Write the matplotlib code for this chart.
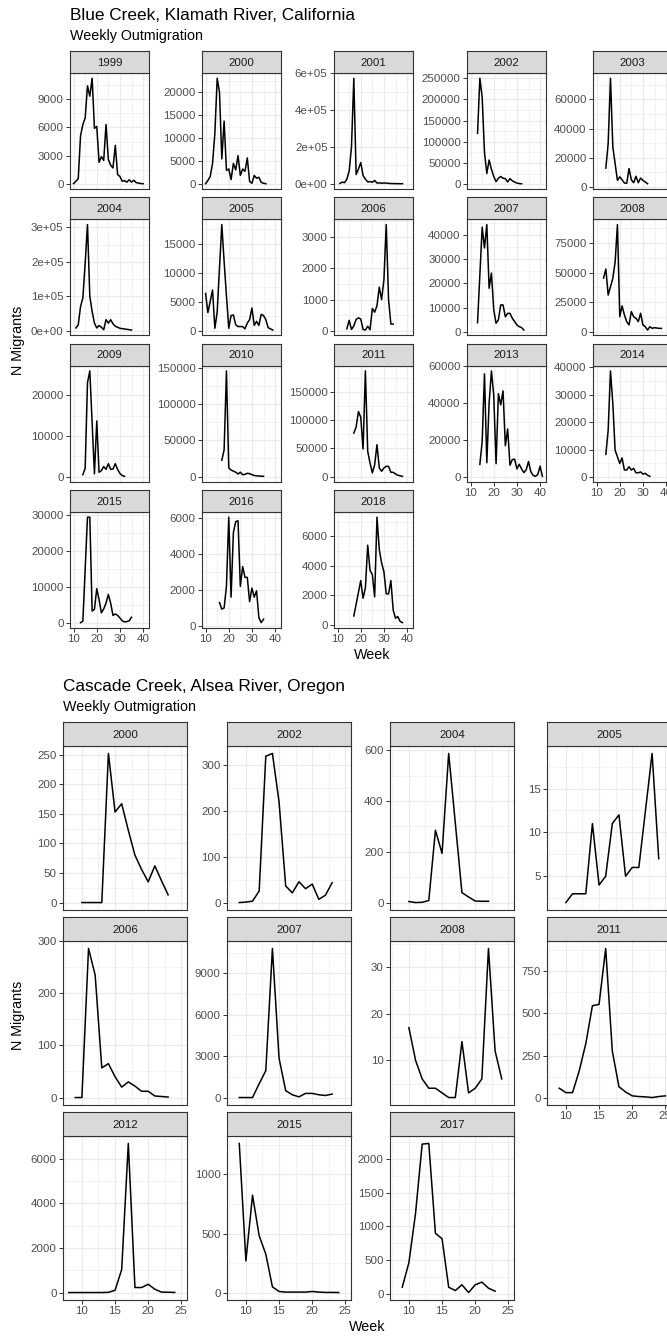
import matplotlib
matplotlib.use("Agg")
import matplotlib.pyplot as plt
import numpy as np

plt.rcParams['font.family'] = ['Liberation Sans', 'DejaVu Sans']

# ---------------- Blue Creek, Klamath River, California ----------------
blue_years = [1999, 2000, 2001, 2002, 2003, 2004, 2005, 2006, 2007,
              2008, 2009, 2010, 2011, 2013, 2014, 2015, 2016, 2018]
blue_weeks = {
    1999: list(range(10, 41)),
    2000: list(range(10, 37)),
    2001: list(range(11, 39)),
    2002: list(range(13, 33)),
    2003: list(range(14, 33)),
    2004: list(range(11, 36)),
    2005: [10, 11, 13, 14, 15] + list(range(17, 25)) + list(range(26, 38)) + [39],
    2006: list(range(14, 35)),
    2007: [13] + list(range(15, 34)),
    2008: list(range(13, 39)),
    2009: [14, 15, 16, 17, 19] + list(range(20, 33)),
    2010: list(range(17, 36)),
    2011: list(range(17, 39)),
    2013: list(range(14, 42)),
    2014: list(range(14, 34)),
    2015: [13, 14] + list(range(16, 36)),
    2016: list(range(16, 36)),
    2018: [17] + list(range(20, 39)),
}
blue_counts = {
    1999: [50, 300, 550, 5100, 6300, 7000, 10400, 9300, 11200, 5900, 6100, 2300, 2900, 2500,
           6300, 2600, 2000, 1700, 4100, 1000, 800, 300, 350, 200, 450, 200, 400, 150, 100, 50, 30],
    2000: [100, 800, 1700, 4500, 11000, 23000, 20000, 5500, 13700, 3000, 3300, 1000, 4500, 3100,
           6200, 1900, 3300, 2800, 5700, 600, 200, 1900, 1300, 1500, 400, 200, 100],
    2001: [2000, 9000, 6000, 25000, 70000, 200000, 572000, 50000, 80000, 115000, 45000, 25000,
           10000, 12000, 8000, 18000, 4000, 5000, 3000, 4000, 4000, 2000, 1500, 1000, 800, 500, 400, 300],
    2002: [120000, 250000, 205000, 75000, 25000, 57000, 35000, 18000, 6000, 14000, 18000, 14000,
           13000, 5000, 13000, 8000, 5000, 2500, 1500, 1000],
    2003: [13000, 30000, 74500, 27700, 16000, 4600, 7000, 5000, 2800, 2500, 12700, 5000, 3000,
           7400, 3000, 6200, 4600, 3500, 2300],
    2004: [8000, 17000, 70000, 95000, 196000, 308000, 100000, 56000, 22000, 8000, 15000, 10000,
           3000, 32000, 22000, 32000, 20000, 13000, 10000, 7000, 6000, 5000, 4000, 3000, 2000],
    2005: [6400, 3100, 7000, 400, 3200, 18300, 11900, 6000, 400, 2600, 2700, 1000, 700, 700, 300,
           1300, 1900, 3900, 900, 1600, 900, 2800, 2600, 1900, 500, 100],
    2006: [70, 340, 50, 160, 370, 420, 380, 50, 30, 150, 40, 720, 600, 810, 1400, 1000, 1640,
           3400, 1000, 220, 220],
    2007: [3750, 43300, 34700, 44400, 18000, 24300, 9000, 3500, 4900, 11100, 11100, 6200, 7600,
           7600, 5600, 4200, 2800, 2100, 1700, 700],
    2008: [45300, 53000, 31000, 38000, 45000, 59000, 90600, 12700, 21800, 14200, 8500, 5700,
           17000, 12700, 11300, 8500, 15600, 5700, 4200, 1400, 4200, 2800, 3400, 3100, 2800, 2800],
    2009: [500, 2100, 23100, 26000, 700, 13700, 1100, 1500, 2500, 1800, 3200, 1800, 1900, 3200,
           1800, 800, 300, 100],
    2010: [22500, 37000, 146000, 12000, 9000, 7500, 6000, 3500, 6000, 2500, 3000, 4500, 4000,
           2500, 1500, 1000, 800, 500, 300],
    2011: [77000, 87600, 115000, 105000, 48800, 187000, 44700, 24000, 6500, 21000, 56500, 15300,
           9400, 15300, 18200, 18200, 7600, 7600, 4700, 2500, 1500, 500],
    2013: [6900, 19300, 55700, 7800, 40000, 57300, 44000, 7300, 45000, 39000, 46500, 17000,
           26000, 6500, 9500, 9800, 4500, 7000, 4500, 2500, 4000, 8500, 3000, 1000, 500, 1500,
           6000, 500],
    2014: [8300, 17100, 38700, 26900, 9800, 7400, 5000, 7000, 2600, 2600, 3800, 2600, 3200,
           1600, 1600, 1900, 1100, 1400, 700, 300],
    2015: [100, 500, 29300, 29300, 3300, 3800, 9500, 6500, 2800, 3900, 5500, 7900, 5500, 2100,
           2500, 2100, 1400, 600, 300, 400, 600, 1600],
    2016: [1300, 930, 1000, 2200, 6050, 1600, 5200, 5800, 5850, 2200, 3300, 2700, 2700, 1350,
           2100, 1600, 1950, 460, 180, 370],
    2018: [600, 3000, 1800, 2500, 5400, 3700, 3400, 1900, 7300, 5100, 4200, 3600, 2100, 2100,
           3000, 1000, 450, 560, 230, 150],
}
blue_yticks = {
    1999: [0, 3000, 6000, 9000], 2000: [0, 5000, 10000, 15000, 20000],
    2001: [0, 2e5, 4e5, 6e5], 2002: [0, 50000, 100000, 150000, 200000, 250000],
    2003: [0, 20000, 40000, 60000], 2004: [0, 1e5, 2e5, 3e5],
    2005: [0, 5000, 10000, 15000], 2006: [0, 1000, 2000, 3000],
    2007: [0, 10000, 20000, 30000, 40000], 2008: [0, 25000, 50000, 75000],
    2009: [0, 10000, 20000], 2010: [0, 50000, 100000, 150000],
    2011: [0, 50000, 100000, 150000], 2013: [0, 20000, 40000, 60000],
    2014: [0, 10000, 20000, 30000, 40000], 2015: [0, 10000, 20000, 30000],
    2016: [0, 2000, 4000, 6000], 2018: [0, 2000, 4000, 6000],
}
blue_sci = [2001, 2004]
blue_xticks = [10, 20, 30, 40]

# ---------------- Cascade Creek, Alsea River, Oregon ----------------
casc_years = [2000, 2002, 2004, 2005, 2006, 2007, 2008, 2011, 2012, 2015, 2017]
casc_weeks = {
    2000: list(range(10, 24)),
    2002: list(range(9, 24)),
    2004: list(range(10, 17)) + list(range(18, 23)),
    2005: list(range(10, 22)) + [23, 24],
    2006: list(range(9, 24)),
    2007: list(range(9, 24)),
    2008: list(range(10, 25)),
    2011: list(range(9, 26)),
    2012: list(range(8, 25)),
    2015: list(range(9, 25)),
    2017: list(range(9, 24)),
}
casc_counts = {
    2000: [0, 0, 0, 0, 252, 153, 167, 122, 80, 56, 35, 62, 37, 13],
    2002: [2, 3, 5, 27, 319, 325, 220, 38, 23, 47, 32, 42, 9, 18, 45],
    2004: [4, 0, 1, 8, 285, 194, 588, 39, 22, 6, 5, 5],
    2005: [2, 3, 3, 3, 11, 4, 5, 11, 12, 5, 6, 6, 19, 7],
    2006: [0, 0, 286, 235, 57, 65, 40, 20, 30, 22, 12, 12, 3, 2, 1],
    2007: [0, 0, 0, 1000, 1950, 10800, 2850, 500, 200, 50, 300, 300, 200, 150, 250],
    2008: [17, 10, 6, 4, 4, 3, 2, 2, 14, 3, 4, 6, 34, 12, 6],
    2011: [57, 31, 31, 158, 320, 544, 552, 882, 276, 66, 35, 12, 8, 6, 2, 8, 12],
    2012: [0, 0, 0, 0, 0, 0, 10, 100, 1030, 6690, 225, 225, 370, 150, 20, 15, 5],
    2015: [1262, 270, 825, 482, 327, 50, 11, 6, 6, 6, 6, 11, 6, 3, 3, 2],
    2017: [94, 460, 1190, 2220, 2230, 895, 815, 94, 45, 130, 15, 130, 170, 80, 35],
}
casc_yticks = {
    2000: [0, 50, 100, 150, 200, 250], 2002: [0, 100, 200, 300],
    2004: [0, 200, 400, 600], 2005: [5, 10, 15], 2006: [0, 100, 200, 300],
    2007: [0, 3000, 6000, 9000], 2008: [10, 20, 30], 2011: [0, 250, 500, 750],
    2012: [0, 2000, 4000, 6000], 2015: [0, 500, 1000], 2017: [0, 500, 1000, 1500, 2000],
}
casc_xticks = [10, 15, 20, 25]

W, H = 667, 1336
fig = plt.figure(figsize=(W / 100, H / 100), dpi=100)

DARK = '#333333'
GRID = '#EBEBEB'
TICKC = '#4D4D4D'


def box(x, y, w, h):
    return [x / W, 1 - (y + h) / H, w / W, h / H]


def draw_site(years, weeks, counts, yticks, sci, xticks, lefts, tops, pw, ph, sh, ncol):
    allw = [w for yr in years for w in weeks[yr]]
    lo, hi = min(allw), max(allw)
    xlim = (lo - 0.05 * (hi - lo), hi + 0.05 * (hi - lo))
    step = xticks[1] - xticks[0]
    xminor = [t - step / 2 for t in xticks] + [xticks[-1] + step / 2]
    xminor = [t for t in xminor if xlim[0] <= t <= xlim[1]]
    for i, yr in enumerate(years):
        r, c = divmod(i, ncol)
        x0, y0 = lefts[c], tops[r]
        ax = fig.add_axes(box(x0, y0 + sh, pw, ph))
        v = np.array(counts[yr], dtype=float)
        ax.plot(weeks[yr], v, color='black', lw=1.1, zorder=3)
        ymin, ymax = v.min(), v.max()
        rng = ymax - ymin
        ylim = (ymin - 0.05 * rng, ymax + 0.05 * rng)
        ax.set_xlim(*xlim)
        ax.set_ylim(*ylim)
        yt = yticks[yr]
        ys = yt[1] - yt[0]
        yminor = [t - ys / 2 for t in yt] + [yt[-1] + ys / 2]
        yminor = [t for t in yminor if ylim[0] <= t <= ylim[1]]
        ax.set_yticks(yt)
        if yr in sci:
            ax.set_yticklabels([f"{t:.0e}" for t in yt])
        else:
            ax.set_yticklabels([f"{t:g}" if t < 1e5 else str(int(t)) for t in yt])
        ax.set_yticks(yminor, minor=True)
        ax.set_xticks(xticks)
        ax.set_xticks(xminor, minor=True)
        ax.grid(which='major', color=GRID, lw=0.9, zorder=0)
        ax.grid(which='minor', color=GRID, lw=0.45, zorder=0)
        ax.set_axisbelow(True)
        ax.tick_params(which='minor', length=0)
        ax.tick_params(which='major', direction='out', length=2.6, width=0.7,
                       color=DARK, labelcolor=TICKC, labelsize=8.25, pad=2)
        if i + ncol < len(years):
            ax.tick_params(axis='x', which='major', length=0, labelbottom=False)
        for s in ax.spines.values():
            s.set_color(DARK)
            s.set_linewidth(0.8)
        sax = fig.add_axes(box(x0, y0, pw, sh))
        sax.set_facecolor('#D9D9D9')
        sax.set_xticks([])
        sax.set_yticks([])
        for s in sax.spines.values():
            s.set_color(DARK)
            s.set_linewidth(0.8)
        sax.text(0.5, 0.47, str(yr), transform=sax.transAxes, ha='center', va='center',
                 fontsize=8.25, color='#1A1A1A')


def label(x, y, s, size, **kw):
    fig.text(x / W, 1 - y / H, s, fontsize=size, color='black', **kw)


# top figure
draw_site(blue_years, blue_weeks, blue_counts, blue_yticks, blue_sci, blue_xticks,
          [70, 202, 334, 467, 593], [51, 197.3, 343.6, 489.9], 79, 116, 22, 5)
label(70, 20, "Blue Creek, Klamath River, California", 12.4, va='baseline')
label(70, 40, "Weekly Outmigration", 10.3, va='baseline')
label(18, 340, "N Migrants", 10.3, rotation=90, ha='center', va='center')
label(372, 659, "Week", 10.3, ha='center', va='baseline')

# bottom figure
draw_site(casc_years, casc_weeks, casc_counts, casc_yticks, [], casc_xticks,
          [63, 227, 390, 547], [722, 917, 1112], 124, 164, 24, 4)
label(63, 690.5, "Cascade Creek, Alsea River, Oregon", 12.4, va='baseline')
label(63, 711.5, "Weekly Outmigration", 10.3, va='baseline')
label(18, 1015, "N Migrants", 10.3, rotation=90, ha='center', va='center')
label(367, 1331, "Week", 10.3, ha='center', va='baseline')

fig.savefig("out.png", dpi=100, facecolor='white')
